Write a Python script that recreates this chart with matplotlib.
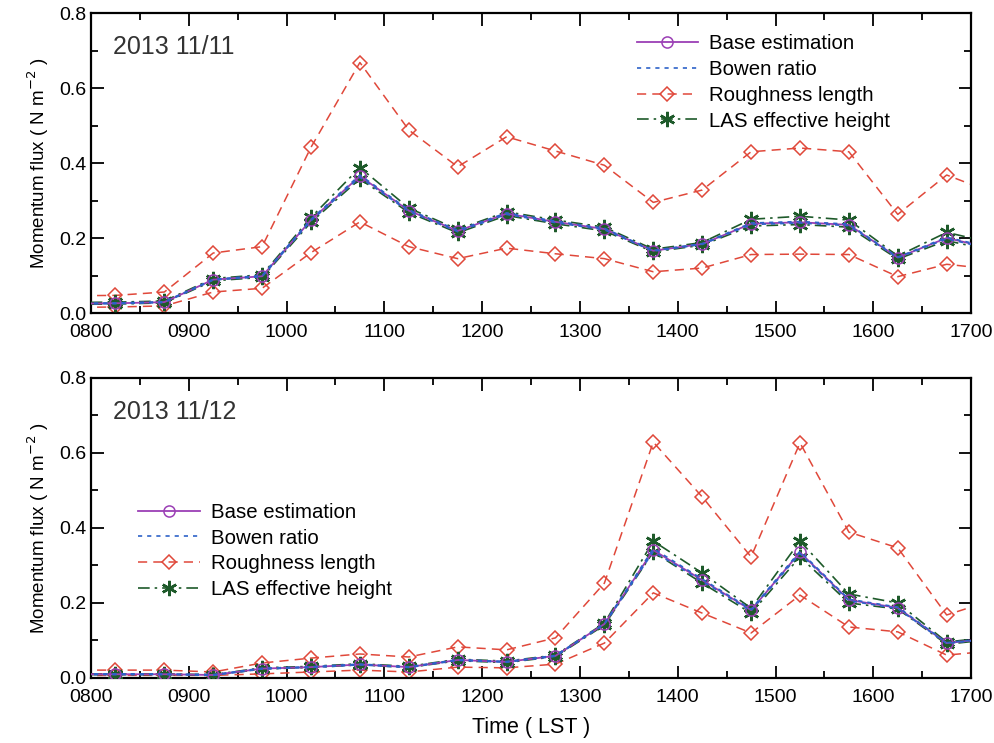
import numpy as np
import matplotlib.pyplot as plt
from matplotlib.ticker import MultipleLocator, FuncFormatter

plt.rcParams['font.family'] = ['Liberation Sans', 'DejaVu Sans']

# half-hour mid points (decimal hours), one before and one after the axis range
hours = [7.75, 8.25, 8.75, 9.25, 9.75, 10.25, 10.75, 11.25, 11.75, 12.25, 12.75,
         13.25, 13.75, 14.25, 14.75, 15.25, 15.75, 16.25, 16.75, 17.25]

# 2013 11/11
base_11 = [0.025, 0.026, 0.029, 0.089, 0.098, 0.248, 0.365, 0.273, 0.219, 0.265, 0.243,
           0.224, 0.166, 0.184, 0.238, 0.242, 0.235, 0.148, 0.200, 0.170]
bowen_hi_11 = [0.026, 0.027, 0.030, 0.090, 0.100, 0.250, 0.368, 0.275, 0.221, 0.267, 0.245,
               0.226, 0.167, 0.185, 0.240, 0.244, 0.237, 0.149, 0.202, 0.172]
bowen_lo_11 = [0.024, 0.025, 0.028, 0.088, 0.097, 0.246, 0.362, 0.271, 0.217, 0.263, 0.241,
               0.222, 0.165, 0.183, 0.236, 0.240, 0.233, 0.147, 0.198, 0.168]
rough_hi_11 = [0.046, 0.047, 0.056, 0.160, 0.177, 0.442, 0.668, 0.488, 0.390, 0.470, 0.432,
               0.394, 0.295, 0.328, 0.430, 0.440, 0.430, 0.263, 0.368, 0.318]
rough_lo_11 = [0.015, 0.016, 0.019, 0.056, 0.066, 0.161, 0.243, 0.177, 0.145, 0.173, 0.158,
               0.145, 0.110, 0.120, 0.156, 0.157, 0.156, 0.097, 0.130, 0.116]
las_hi_11 = [0.028, 0.029, 0.032, 0.092, 0.102, 0.255, 0.388, 0.280, 0.223, 0.270, 0.248,
             0.229, 0.170, 0.188, 0.250, 0.258, 0.248, 0.152, 0.215, 0.185]
las_lo_11 = [0.023, 0.024, 0.027, 0.086, 0.095, 0.242, 0.358, 0.268, 0.214, 0.260, 0.238,
             0.219, 0.163, 0.181, 0.232, 0.236, 0.229, 0.144, 0.193, 0.165]

# 2013 11/12
base_12 = [0.010, 0.010, 0.010, 0.008, 0.025, 0.029, 0.036, 0.029, 0.048, 0.043, 0.059,
           0.144, 0.341, 0.261, 0.181, 0.335, 0.208, 0.187, 0.093, 0.107]
bowen_hi_12 = [0.011, 0.011, 0.011, 0.009, 0.026, 0.030, 0.037, 0.030, 0.049, 0.044, 0.060,
               0.145, 0.345, 0.264, 0.183, 0.338, 0.210, 0.189, 0.094, 0.108]
bowen_lo_12 = [0.009, 0.009, 0.009, 0.007, 0.024, 0.028, 0.035, 0.028, 0.047, 0.042, 0.058,
               0.143, 0.337, 0.258, 0.179, 0.332, 0.206, 0.185, 0.092, 0.106]
rough_hi_12 = [0.021, 0.021, 0.021, 0.016, 0.040, 0.053, 0.064, 0.056, 0.083, 0.075, 0.107,
               0.253, 0.629, 0.483, 0.323, 0.627, 0.389, 0.347, 0.168, 0.210]
rough_lo_12 = [0.006, 0.007, 0.007, 0.007, 0.011, 0.016, 0.021, 0.016, 0.029, 0.027, 0.037,
               0.093, 0.227, 0.173, 0.120, 0.221, 0.136, 0.123, 0.061, 0.073]
las_hi_12 = [0.011, 0.011, 0.011, 0.009, 0.027, 0.031, 0.038, 0.031, 0.050, 0.045, 0.061,
             0.146, 0.365, 0.280, 0.186, 0.365, 0.224, 0.200, 0.096, 0.110]
las_lo_12 = [0.009, 0.009, 0.009, 0.007, 0.024, 0.028, 0.035, 0.028, 0.046, 0.041, 0.057,
             0.141, 0.336, 0.253, 0.173, 0.323, 0.200, 0.184, 0.090, 0.104]

days = [
    ('2013 11/11', base_11, bowen_hi_11, bowen_lo_11, rough_hi_11, rough_lo_11, las_hi_11, las_lo_11),
    ('2013 11/12', base_12, bowen_hi_12, bowen_lo_12, rough_hi_12, rough_lo_12, las_hi_12, las_lo_12),
]

purple = '#9b3fb5'
blue = '#2d62c8'
red = '#e0483a'
green = '#1e5a2a'

fig = plt.figure(figsize=(9.94, 7.43), dpi=100)
ax1 = fig.add_axes([0.0915, 0.5787, 0.8855, 0.4038])
ax2 = fig.add_axes([0.0915, 0.0875, 0.8855, 0.4038])

for ax, (label, base, bw_hi, bw_lo, r_hi, r_lo, l_hi, l_lo) in zip([ax1, ax2], days):
    ax.plot(hours, r_hi, color=red, ls=(0, (6, 4)), lw=1.1, marker='D', ms=7,
            mfc='none', mec=red, mew=1.1, label='Roughness length', zorder=2)
    ax.plot(hours, r_lo, color=red, ls=(0, (6, 4)), lw=1.1, marker='D', ms=7,
            mfc='none', mec=red, mew=1.1, zorder=2)
    ax.plot(hours, l_hi, color=green, ls=(0, (7, 3, 1.5, 3)), lw=1.2, marker=(6, 2, 0), ms=11,
            mec=green, mew=1.8, label='LAS effective height', zorder=3)
    ax.plot(hours, l_lo, color=green, ls=(0, (7, 3, 1.5, 3)), lw=1.2, marker=(6, 2, 0), ms=11,
            mec=green, mew=1.8, zorder=3)
    ax.plot(hours, base, color=purple, ls='-', lw=1.3, marker='o', ms=8,
            mfc='none', mec=purple, mew=1.1, label='Base estimation', zorder=4)
    ax.plot(hours, bw_hi, color=blue, ls=(0, (2.5, 3)), lw=1.2, label='Bowen ratio', zorder=5)
    ax.plot(hours, bw_lo, color=blue, ls=(0, (2.5, 3)), lw=1.2, zorder=5)

    ax.set_xlim(8, 17)
    ax.set_ylim(0, 0.8)
    ax.xaxis.set_major_locator(MultipleLocator(1))
    ax.xaxis.set_minor_locator(MultipleLocator(0.5))
    ax.yaxis.set_major_locator(MultipleLocator(0.2))
    ax.yaxis.set_minor_locator(MultipleLocator(0.1))
    ax.xaxis.set_major_formatter(FuncFormatter(lambda v, p: '%02d00' % int(round(v))))
    ax.yaxis.set_major_formatter(FuncFormatter(lambda v, p: '%.1f' % v))
    ax.tick_params(which='both', direction='in', top=True, right=True, labelsize=14,
                   width=1.3, colors='black')
    ax.tick_params(which='major', length=9)
    ax.tick_params(which='minor', length=5)
    ax.tick_params(axis='x', pad=8)
    for s in ax.spines.values():
        s.set_linewidth(1.6)
    ax.set_ylabel('Momentum flux ( N m$^{-2}$ )', fontsize=13.5, labelpad=6)
    ax.text(0.025, 0.887, label, transform=ax.transAxes, fontsize=18, color='#333333',
            va='center', ha='left')

    handles, labels = ax.get_legend_handles_labels()
    order = [labels.index(n) for n in ['Base estimation', 'Bowen ratio',
                                         'Roughness length', 'LAS effective height']]
    hs = [handles[i] for i in order]
    ls = [labels[i] for i in order]
    anchor = (0.599, 0.99) if ax is ax1 else (0.033, 0.645)
    ax.legend(hs, ls, loc='upper left', bbox_to_anchor=anchor, frameon=False,
              fontsize=14.7, handlelength=3.0, handletextpad=0.54, labelspacing=0.33)

ax2.set_xlabel('Time ( LST )', fontsize=15.5, labelpad=8)

fig.savefig('out.png', dpi=100)
